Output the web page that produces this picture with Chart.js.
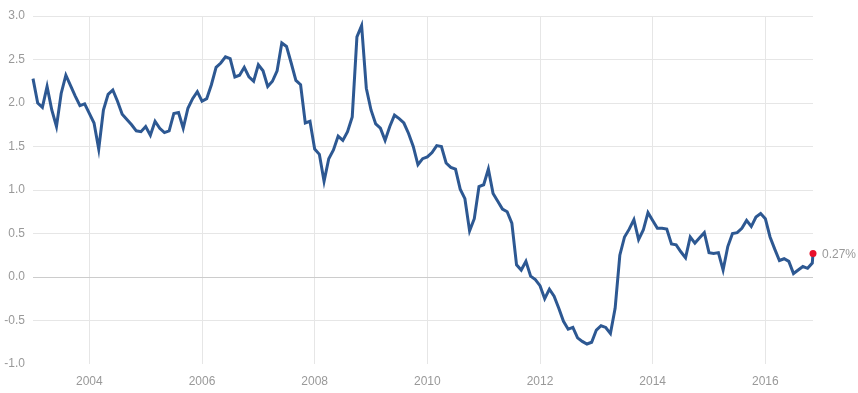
<!DOCTYPE html>
<html>
<head>
<meta charset="utf-8">
<title>Chart</title>
<script src="https://cdn.jsdelivr.net/npm/chart.js@4"></script>
<style>
    body { margin: 0; background: #fff; }
    #wrap { width: 858px; height: 393px; position: relative; }
</style>
</head>
<body>
<div id="wrap"><canvas id="grafico"></canvas></div>
<script>
// monthly values, Jan 2003 -> Nov 2016
const startYear = 2003;
const values = [
    2.28, 2.00, 1.95, 2.19, 1.92, 1.73, 2.11, 2.32, 2.20, 2.08, 1.97, 1.99,
    1.88, 1.77, 1.47, 1.92, 2.10, 2.15, 2.02, 1.87, 1.81, 1.75, 1.68, 1.67,
    1.73, 1.63, 1.79, 1.71, 1.66, 1.68, 1.88, 1.89, 1.71, 1.94, 2.05, 2.13,
    2.02, 2.05, 2.21, 2.41, 2.46, 2.53, 2.51, 2.30, 2.32, 2.41, 2.30, 2.25,
    2.44, 2.37, 2.19, 2.25, 2.37, 2.69, 2.65, 2.46, 2.26, 2.21, 1.77, 1.79,
    1.47, 1.41, 1.10, 1.36, 1.46, 1.62, 1.57, 1.67, 1.84, 2.76, 2.89, 2.17,
    1.92, 1.76, 1.71, 1.57, 1.73, 1.86, 1.82, 1.77, 1.65, 1.50, 1.29, 1.36,
    1.38, 1.43, 1.51, 1.50, 1.31, 1.26, 1.24, 1.01, 0.90, 0.53, 0.67, 1.04,
    1.06, 1.24, 0.96, 0.87, 0.78, 0.75, 0.62, 0.14, 0.08, 0.18, 0.01, -0.03,
    -0.10, -0.25, -0.14, -0.22, -0.36, -0.51, -0.60, -0.58, -0.70, -0.74, -0.77, -0.75,
    -0.61, -0.56, -0.58, -0.65, -0.36, 0.25, 0.46, 0.55, 0.66, 0.43, 0.54, 0.74,
    0.65, 0.56, 0.56, 0.55, 0.38, 0.37, 0.29, 0.22, 0.46, 0.39, 0.45, 0.51,
    0.28, 0.27, 0.28, 0.08, 0.35, 0.50, 0.51, 0.56, 0.65, 0.58, 0.69, 0.73,
    0.67, 0.46, 0.32, 0.19, 0.21, 0.18, 0.04, 0.08, 0.12, 0.10, 0.16
];
// latest reading, a few days after the last monthly point
const latestValue = 0.27;
const latestMonth = 166.15;

const yearTicks = [2004, 2006, 2008, 2010, 2012, 2014, 2016];
const yTicks = [-1.0, -0.5, 0.0, 0.5, 1.0, 1.5, 2.0, 2.5, 3.0];

const pontos = values.map((v, i) => ({ x: i, y: v }));
pontos.push({ x: latestMonth, y: latestValue });
const ultimo = pontos.length - 1;

const corTexto = '#999';
const fonte = { family: '"Liberation Sans", Arial, sans-serif', size: 12 };

// label next to the red dot
const rotuloFinal = {
    id: 'rotuloFinal',
    afterDatasetsDraw(chart) {
        const p = chart.getDatasetMeta(0).data[ultimo];
        const ctx = chart.ctx;
        ctx.save();
        ctx.font = '12px "Liberation Sans", Arial, sans-serif';
        ctx.fillStyle = corTexto;
        ctx.textBaseline = 'middle';
        ctx.textAlign = 'left';
        ctx.fillText(latestValue.toFixed(2) + '%', p.x + 9, p.y + 1);
        ctx.restore();
    }
};

new Chart(document.getElementById('grafico'), {
    type: 'line',
    data: {
        datasets: [{
            data: pontos,
            borderColor: '#2d5892',
            borderWidth: 3,
            tension: 0,
            clip: false,
            pointRadius: pontos.map((p, i) => i === ultimo ? 3.5 : 0),
            pointBackgroundColor: '#e8102b',
            pointBorderWidth: 0
        }]
    },
    options: {
        responsive: true,
        maintainAspectRatio: false,
        animation: false,
        layout: { padding: { top: 16, right: 45, left: 0, bottom: 0 } },
        plugins: { legend: { display: false }, tooltip: { enabled: false } },
        scales: {
            x: {
                type: 'linear',
                min: 0,
                max: latestMonth,
                afterBuildTicks: (s) => { s.ticks = yearTicks.map(y => ({ value: (y - startYear) * 12 })); },
                afterFit: (s) => { s.height = 29; },
                border: { display: false },
                grid: { color: '#e6e6e6', drawTicks: false },
                ticks: {
                    color: corTexto, font: fonte, padding: 10, maxRotation: 0,
                    callback: (v) => String(Math.round(startYear + v / 12))
                }
            },
            y: {
                min: -1,
                max: 3,
                afterBuildTicks: (s) => { s.ticks = yTicks.map(v => ({ value: v })); },
                afterFit: (s) => { s.width = 33; },
                border: { display: false },
                grid: {
                    drawTicks: false,
                    color: (c) => c.tick.value === -1 ? 'rgba(0,0,0,0)' : (c.tick.value === 0 ? '#cccccc' : '#e6e6e6')
                },
                ticks: { color: corTexto, font: fonte, padding: 8, callback: (v) => v.toFixed(1) }
            }
        }
    },
    plugins: [rotuloFinal]
});
</script>
</body>
</html>
